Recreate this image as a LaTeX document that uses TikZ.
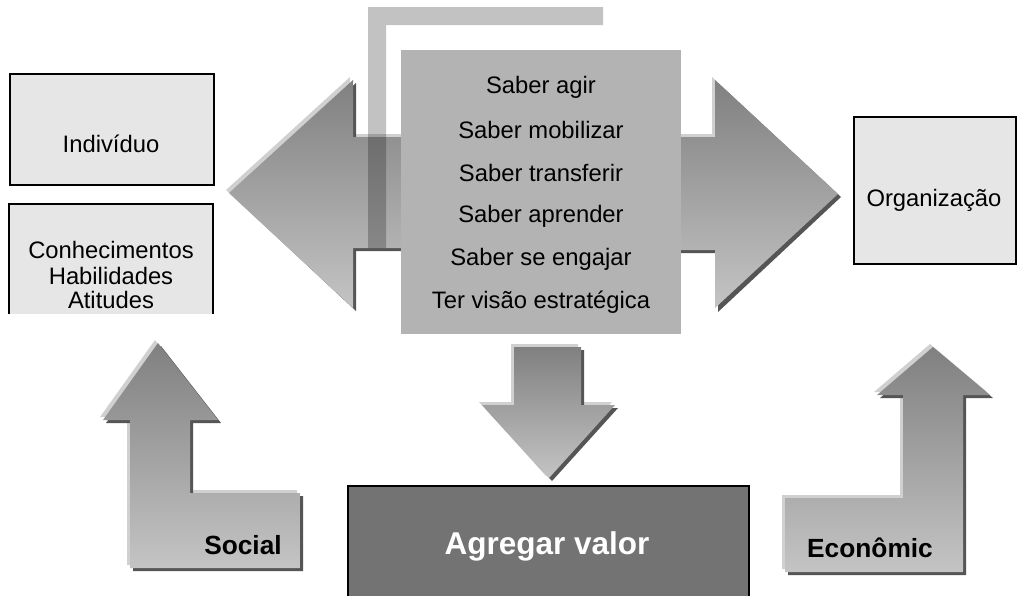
\documentclass[tikz,border=0pt]{standalone}
\usepackage{fontspec}
\setmainfont{Liberation Sans}
\begin{document}
\begin{tikzpicture}[x=1pt,y=-1pt,
  lightbox/.style={draw=black,line width=1.6pt,fill=boxgray,inner sep=0pt},
  blockarrow/.style={top color=arrtop,bottom color=arrbot,draw=none},
  arrshadow/.style={fill=shadowdark,draw=none},
  arrlight/.style={fill=lightedge,draw=none},
  bodytext/.style={font=\fontsize{23.8}{27}\selectfont,text=black},
  labtext/.style={font=\fontsize{26.3}{30}\selectfont\bfseries,text=black}]
\definecolor{boxgray}{HTML}{E6E6E6}
\definecolor{centergray}{HTML}{B3B3B3}
\definecolor{arrtop}{HTML}{808080}
\definecolor{arrbot}{HTML}{C4C4C4}
\definecolor{shadowdark}{HTML}{555555}
\definecolor{lightedge}{HTML}{D0D0D0}
\definecolor{valorgray}{HTML}{737373}
\useasboundingbox (0,0) rectangle (1022,595);
\fill[white] (0,0) rectangle (1022,595);

% left boxes
\node[lightbox,minimum width=204pt,minimum height=111pt,anchor=north west] (indiv) at (9,73) {};
\node[bodytext] (indivtxt) at (111,144) {Indivíduo};
\fill[boxgray] (9,204) rectangle (213,314);
\draw[line width=1.6pt] (9,314) -- (9,204) -- (213,204) -- (213,314);
\node[bodytext] (conhtxt) at (111,250) {Conhecimentos};
\node[bodytext] (habtxt) at (111,276) {Habilidades};
\node[bodytext] (atitxt) at (111,300) {Atitudes};

% right box
\node[lightbox,minimum width=162pt,minimum height=147pt,anchor=north west] (org) at (853,116) {};
\node[bodytext] (orgtxt) at (934,200) {Organização};

% left arrow
\path[arrlight] (226,190) -- (350,77) -- (350,134) -- (401,134) -- (401,248) -- (353,248) -- (353,308) -- cycle;
\path[arrshadow] (232,195) -- (356,83) -- (356,140) -- (404,140) -- (404,251) -- (356,251) -- (356,311) -- cycle;
\path[blockarrow] (229,193) -- (353,80) -- (353,137) -- (401,137) -- (401,248) -- (353,248) -- (353,308) -- cycle;

% right arrow
\path[arrlight] (681,134) -- (712,134) -- (712,77) -- (835,192) -- (715,306) -- (715,250) -- (681,250) -- cycle;
\path[arrshadow] (681,140) -- (718,140) -- (718,83) -- (841,197) -- (718,312) -- (718,253) -- (681,253) -- cycle;
\path[blockarrow] (681,137) -- (715,137) -- (715,80) -- (838,194) -- (715,308) -- (715,250) -- (681,250) -- cycle;

% shadow frame of central box (L shape)
\fill[black,opacity=0.24] (368,7) -- (603,7) -- (603,25) -- (386,25) -- (386,248) -- (368,248) -- cycle;

% central box
\node[fill=centergray,minimum width=280pt,minimum height=284pt,anchor=north west,inner sep=0pt] (center) at (401,50) {};
\foreach \t/\yy [count=\i] in {Saber agir/87,Saber mobilizar/130,Saber transferir/173,Saber aprender/216,Saber se engajar/259,Ter visão estratégica/302}
  \node[bodytext] (c\i) at (541,\yy) {\t};

% down arrow
\path[arrlight] (511,344) -- (578,344) -- (578,402) -- (612,402) -- (546,476) -- (479,402) -- (511,402) -- cycle;
\path[arrshadow] (517,350) -- (584,350) -- (584,408) -- (618,408) -- (552,481) -- (485,408) -- (517,408) -- cycle;
\path[blockarrow] (514,347) -- (581,347) -- (581,405) -- (615,405) -- (549,478) -- (482,405) -- (514,405) -- cycle;

% agregar valor
\node[draw=black,line width=1.6pt,fill=valorgray,minimum width=401pt,minimum height=120pt,anchor=north west,inner sep=0pt] (valor) at (347,485) {};
\node[font=\fontsize{31.5}{36}\selectfont\bfseries,text=white] (valortxt) at (547,546) {Agregar valor};

% social arrow
\path[arrlight] (155,340) -- (215,417) -- (187,417) -- (187,490) -- (297,490) -- (297,565) -- (127,565) -- (127,417) -- (100,417) -- cycle;
\path[arrshadow] (161,346) -- (221,423) -- (193,423) -- (193,496) -- (303,496) -- (303,571) -- (133,571) -- (133,423) -- (106,423) -- cycle;
\path[blockarrow] (158,343) -- (218,420) -- (190,420) -- (190,493) -- (300,493) -- (300,568) -- (130,568) -- (130,420) -- (103,420) -- cycle;
\node[labtext] (social) at (243,545) {Social};

% economic arrow
\path[arrlight] (930,344) -- (987,392) -- (960,392) -- (960,569) -- (782,569) -- (782,495) -- (900,495) -- (900,392) -- (874,392) -- cycle;
\path[arrshadow] (936,350) -- (993,398) -- (966,398) -- (966,575) -- (788,575) -- (788,501) -- (906,501) -- (906,398) -- (880,398) -- cycle;
\path[blockarrow] (933,347) -- (990,395) -- (963,395) -- (963,572) -- (785,572) -- (785,498) -- (903,498) -- (903,395) -- (877,395) -- cycle;
\node[labtext] (econ) at (870,548) {Econômic};
\end{tikzpicture}
\end{document}
